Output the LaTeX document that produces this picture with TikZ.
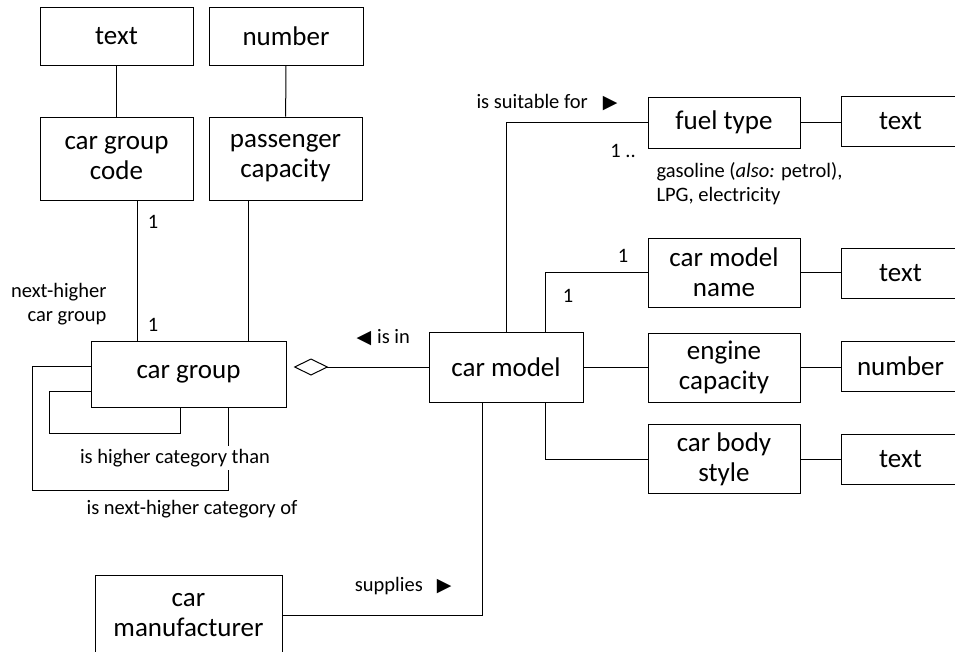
\documentclass[tikz,border=0pt]{standalone}
\usepackage{fontspec}
\setmainfont{Carlito}
\newfontfamily\symfont{DejaVu Sans}
\usetikzlibrary{arrows.meta}
\newcommand{\boxfont}{\fontsize{27}{30}\selectfont}
\newcommand{\labfont}{\fontsize{20.5}{24}\selectfont}
\newcommand{\tri}[1]{{\symfont\fontsize{19}{19}\selectfont #1}}

\begin{document}
\begin{tikzpicture}[x=1pt, y=-1pt, line width=1pt,
  ent/.style={draw, font=\boxfont, align=center, inner sep=0pt},
  lab/.style={font=\labfont, inner sep=1pt}]
  \useasboundingbox (0,0) rectangle (955,651);
  % car group and its attributes
  \node[ent, minimum width=153, minimum height=58] (cgtext) at (116.5,36) {text};
  \node[ent, minimum width=154, minimum height=58] (pcnum) at (286,36) {number};
  \node[ent, minimum width=153, minimum height=83] (cgcode) at (116.5,158.5) {car group\\code};
  \node[ent, minimum width=153, minimum height=83] (pcap) at (285.5,158.5) {passenger\\capacity};
  \node[ent, minimum width=195, minimum height=66] (cg) at (188.5,374) {car group};
  % car model and its attributes
  \node[ent, minimum width=154, minimum height=70] (cm) at (506,367) {car model};
  \node[ent, minimum width=152, minimum height=51] (ft) at (724,122.5) {fuel type};
  \node[ent, minimum width=119, minimum height=50] (fttext) at (900.5,121.5) {text};
  \node[ent, minimum width=152, minimum height=69] (cmn) at (724,272.5) {car model\\name};
  \node[ent, minimum width=119, minimum height=50] (cmntext) at (900.5,273) {text};
  \node[ent, minimum width=152, minimum height=69] (ec) at (724,367.5) {engine\\capacity};
  \node[ent, minimum width=119, minimum height=50] (ecnum) at (900.5,366) {number};
  \node[ent, minimum width=152, minimum height=69] (cbs) at (724,459) {car body\\style};
  \node[ent, minimum width=119, minimum height=50] (cbstext) at (900.5,459.5) {text};
  \node[ent, minimum width=187, minimum height=80] (mf) at (188.5,615) {car\\manufacturer};

  % attribute links
  \draw (cgtext) -- (cgcode);
  \draw (pcnum) -- (pcap);
  \draw ([xshift=20.5]cgcode.south) -- ([xshift=-51.5]cg.north);
  \draw ([xshift=-37.5]pcap.south) -- ([xshift=59.5]cg.north);
  \draw (ft.east) -- (fttext.west |- ft.east);
  \draw (cmn.east) -- (cmntext.west |- cmn.east);
  \draw (ec.east) -- (ecnum.west |- ec.east);
  \draw (cbs.east) -- (cbstext.west |- cbs.east);

  % self references of car group
  \coordinate (outerc) at (32,490);
  \coordinate (innerc) at (49,433);
  \draw ([yshift=8]cg.west) -| (outerc) -| ([xshift=39.5]cg.south);
  \draw ([yshift=-17]cg.west) -| (innerc) -| ([xshift=-8.5]cg.south);

  % car model links
  \draw[-{Diamond[open, length=35pt, width=17pt]}, shorten >=7pt] (cm.west) -- (cg.east |- cm.west);
  \draw (cm.north) |- (ft.west);
  \draw ([xshift=39]cm.north) |- (cmn.west);
  \draw (cm.east) -- (ec.west |- cm.east);
  \draw ([xshift=39]cm.south) |- (cbs.west);
  \draw ([xshift=-24]cm.south) |- (mf.east);

  % labels
  \node[lab, anchor=east, align=right] (nhcg) at (108,304) {next-higher\\car group};
  \node[lab] (one1) at (153,222) {1};
  \node[lab] (one2) at (153,325) {1};
  \node[lab, fill=white, inner sep=3pt] (hcat) at (175,458) {is higher category than};
  \node[lab] (nhcat) at (192,509) {is next-higher category of};
  \node[lab, anchor=west] (isin) at (355,338) {\tri{◀}\hspace{6pt}is in};
  \node[lab, anchor=east] (suit) at (619,103) {is suitable for\hspace{15pt}\tri{▶}};
  \node[lab] (onen) at (623,151) {1 ..};
  \node[lab, anchor=west, align=left] (fuels) at (655,184) {gasoline (\textit{also:} petrol),\\LPG, electricity};
  \node[lab] (one3) at (623,256) {1};
  \node[lab] (one4) at (568,296) {1};
  \node[lab, anchor=east] (supp) at (453,586) {supplies\hspace{14pt}\tri{▶}};
\end{tikzpicture}
\end{document}
